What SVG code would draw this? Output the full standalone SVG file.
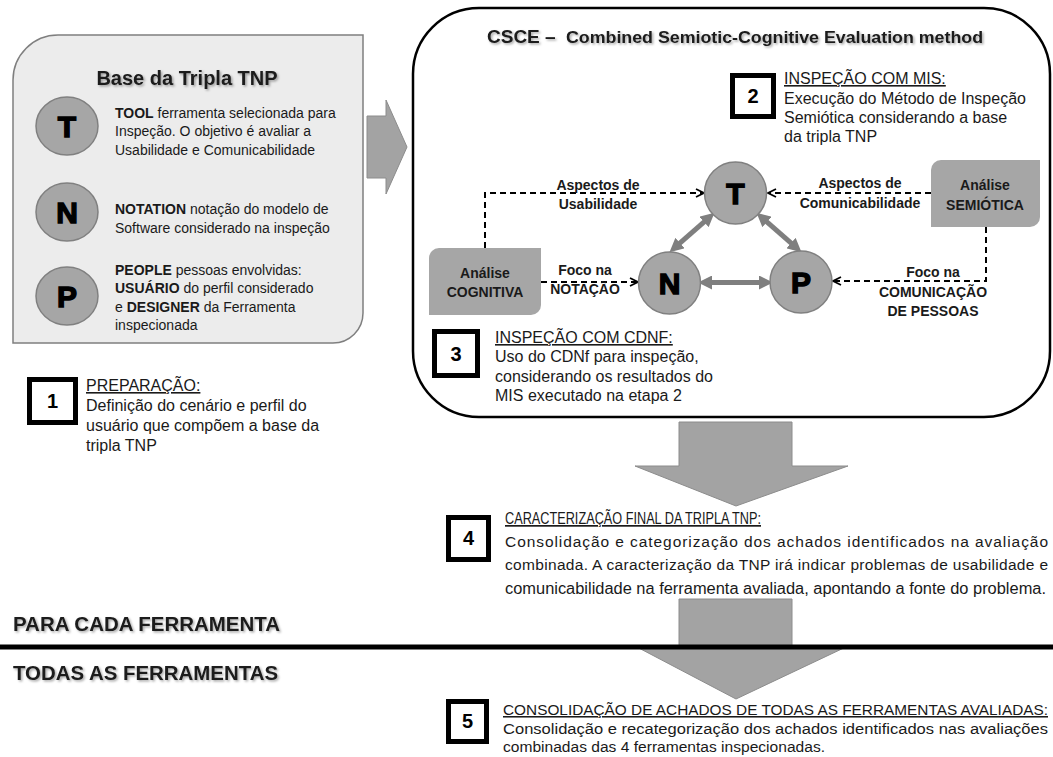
<svg xmlns="http://www.w3.org/2000/svg" width="1053" height="757" viewBox="0 0 1053 757">
  <defs>
    <filter id="shadow" x="-5%" y="-30%" width="110%" height="160%">
      <feDropShadow dx="1.5" dy="1.5" stdDeviation="1" flood-color="#000" flood-opacity="0.35"/>
    </filter>
    <marker id="open" viewBox="0 0 10 10" refX="9" refY="5" markerWidth="10" markerHeight="10" markerUnits="userSpaceOnUse" orient="auto">
      <path d="M1,1 L9,5 L1,9" fill="none" stroke="#000" stroke-width="1.8"/>
    </marker>
    <marker id="grayhead" viewBox="0 0 14 14" refX="4" refY="7" markerWidth="14" markerHeight="14" markerUnits="userSpaceOnUse" orient="auto-start-reverse">
      <path d="M0,0 L14,7 L0,14 Z" fill="#7f7f7f"/>
    </marker>
    <style>
      .body { font-family: "Liberation Sans", Arial, sans-serif; fill: #1a1a1a; }
      .bold { font-family: "Liberation Sans", Arial, sans-serif; font-weight: bold; fill: #1a1a1a; }
      .stepbox { fill: #fff; stroke: #000; stroke-width: 5; }
      .stepnum { font-family: "Liberation Sans", Arial, sans-serif; font-weight: bold; font-size: 20px; fill: #000; text-anchor: middle; }
      .circle { fill: #a6a6a6; stroke: #808080; stroke-width: 1.5; }
      .letter { font-family: "Liberation Sans", Arial, sans-serif; font-weight: 900; font-size: 30px; fill: #000; stroke: #000; stroke-width: 1.4; text-anchor: middle; }
      .graybox { fill: #a6a6a6; }
      .dash { fill: none; stroke: #000; stroke-width: 2; stroke-dasharray: 6 4; }
      .dbl { stroke: #7f7f7f; stroke-width: 5; marker-start: url(#grayhead); marker-end: url(#grayhead); }
      .bigarrow { fill: #a3a3a3; stroke: #8c8c8c; stroke-width: 1; }
      .lbl { font-family: "Liberation Sans", Arial, sans-serif; font-weight: bold; font-size: 14px; fill: #1a1a1a; text-anchor: middle; }
    </style>
  </defs>

  <!-- Base of the TNP triple -->
  <g id="base-tnp">
    <path d="M13,80 A45,45 0 0 1 58,35 L363,35 L363,313 A30,30 0 0 1 333,343 L13,343 Z" fill="#ececec" stroke="#7f7f7f" stroke-width="1.5"/>
    <text class="bold" x="187" y="85" font-size="20" text-anchor="middle" filter="url(#shadow)">Base da Tripla TNP</text>
    <ellipse class="circle" cx="67" cy="126" rx="31" ry="29"/>
    <text class="letter" x="67" y="137">T</text>
    <ellipse class="circle" cx="67" cy="212" rx="31" ry="29"/>
    <text class="letter" x="67" y="223">N</text>
    <ellipse class="circle" cx="67" cy="296" rx="31" ry="29"/>
    <text class="letter" x="67" y="307">P</text>
    <g class="body" font-size="14">
      <text x="115" y="118"><tspan font-weight="bold">TOOL</tspan> ferramenta selecionada para</text>
      <text x="115" y="136">Inspeção. O objetivo é avaliar a</text>
      <text x="115" y="155">Usabilidade e Comunicabilidade</text>
      <text x="115" y="214"><tspan font-weight="bold">NOTATION</tspan> notação do modelo de</text>
      <text x="115" y="233">Software considerado na inspeção</text>
      <text x="115" y="275"><tspan font-weight="bold">PEOPLE</tspan> pessoas envolvidas:</text>
      <text x="115" y="293"><tspan font-weight="bold">USUÁRIO</tspan> do perfil considerado</text>
      <text x="115" y="312">e <tspan font-weight="bold">DESIGNER</tspan> da Ferramenta</text>
      <text x="115" y="330">inspecionada</text>
    </g>
  </g>

  <!-- Arrow into the CSCE method -->
  <polygon class="bigarrow" points="367,116 386,116 386,100 407,147 386,194 386,178 367,178"/>

  <!-- Step 1 -->
  <g id="step1">
    <rect class="stepbox" x="29.5" y="379.5" width="46" height="43"/>
    <text class="stepnum" x="52.5" y="408">1</text>
    <g class="body" font-size="16">
      <text x="86" y="391" text-decoration="underline">PREPARAÇÃO:</text>
      <text x="86" y="411">Definição do cenário e perfil do</text>
      <text x="86" y="431">usuário que compõem a base da</text>
      <text x="86" y="451">tripla TNP</text>
    </g>
  </g>

  <!-- CSCE container -->
  <g id="csce">
    <rect x="413" y="8" width="637" height="409" rx="66" ry="66" fill="#fff" stroke="#000" stroke-width="2.5"/>
    <g filter="url(#shadow)">
      <text class="bold" x="487" y="43" font-size="19">CSCE –</text>
      <text class="bold" x="566" y="43" font-size="16" textLength="417" lengthAdjust="spacingAndGlyphs">Combined Semiotic-Cognitive Evaluation method</text>
    </g>
  </g>

  <!-- Step 2 -->
  <g id="step2">
    <rect class="stepbox" x="732.5" y="75.5" width="41" height="41"/>
    <text class="stepnum" x="753" y="103">2</text>
    <g class="body" font-size="16">
      <text x="784" y="84" text-decoration="underline">INSPEÇÃO COM MIS:</text>
      <text x="784" y="104">Execução do Método de Inspeção</text>
      <text x="784" y="123">Semiótica considerando a base</text>
      <text x="784" y="142">da tripla TNP</text>
    </g>
  </g>

  <!-- Connectors -->
  <g id="connectors">
    <path class="dash" d="M485,248 V193 H704" marker-end="url(#open)"/>
    <path class="dash" d="M931,193 H768" marker-end="url(#open)"/>
    <path class="dash" d="M541,282 H638" marker-end="url(#open)"/>
    <path class="dash" d="M986,227 V281 H833" marker-end="url(#open)"/>
    <line class="dbl" x1="677" y1="245.7" x2="707" y2="219.3"/>
    <line class="dbl" x1="794" y1="245.7" x2="764" y2="219.3"/>
    <line class="dbl" x1="708" y1="282.5" x2="763" y2="282.5"/>
  </g>

  <!-- Connector labels -->
  <g id="labels">
    <text class="lbl" x="598" y="190">Aspectos de</text>
    <text class="lbl" x="598" y="209">Usabilidade</text>
    <text class="lbl" x="860" y="188">Aspectos de</text>
    <text class="lbl" x="860" y="208">Comunicabilidade</text>
    <text class="lbl" x="585" y="275">Foco na</text>
    <text class="lbl" x="585" y="294">NOTAÇÃO</text>
    <text class="lbl" x="933" y="277">Foco na</text>
    <text class="lbl" x="933" y="297">COMUNICAÇÃO</text>
    <text class="lbl" x="933" y="316">DE PESSOAS</text>
  </g>

  <!-- Triple nodes -->
  <g id="node-t">
    <ellipse class="circle" cx="735.5" cy="193" rx="31" ry="31"/>
    <text class="letter" x="735.5" y="204">T</text>
  </g>
  <g id="node-n">
    <ellipse class="circle" cx="669.5" cy="283" rx="31" ry="31"/>
    <text class="letter" x="669.5" y="294">N</text>
  </g>
  <g id="node-p">
    <ellipse class="circle" cx="801" cy="282" rx="31" ry="31"/>
    <text class="letter" x="801" y="293">P</text>
  </g>

  <!-- Analysis boxes -->
  <g id="analise-cognitiva">
    <path class="graybox" d="M439,248 H541 V305 A10,10 0 0 1 531,315 H429 V258 A10,10 0 0 1 439,248 Z"/>
    <text class="lbl" x="485" y="278">Análise</text>
    <text class="lbl" x="485" y="297">COGNITIVA</text>
  </g>
  <g id="analise-semiotica">
    <path class="graybox" d="M941,160 H1040 V217 A10,10 0 0 1 1030,227 H931 V170 A10,10 0 0 1 941,160 Z"/>
    <text class="lbl" x="985" y="190">Análise</text>
    <text class="lbl" x="985" y="210">SEMIÓTICA</text>
  </g>

  <!-- Step 3 -->
  <g id="step3">
    <rect class="stepbox" x="434.5" y="331.5" width="43" height="44"/>
    <text class="stepnum" x="456" y="361">3</text>
    <g class="body" font-size="16">
      <text x="495" y="343" text-decoration="underline">INSPEÇÃO COM CDNF:</text>
      <text x="495" y="362">Uso do CDNf para inspeção,</text>
      <text x="495" y="382">considerando os resultados do</text>
      <text x="495" y="401">MIS executado na etapa 2</text>
    </g>
  </g>

  <!-- Flow arrows -->
  <polygon class="bigarrow" points="679,422 792,422 792,466 848,466 736,506 635,466 679,466"/>
  <polygon class="bigarrow" points="679,599 792,599 792,646 848,646 736,699 635,646 679,646"/>

  <!-- Step 4 -->
  <g id="step4">
    <rect class="stepbox" x="448.5" y="517.5" width="40" height="42"/>
    <text class="stepnum" x="468.5" y="545">4</text>
    <g class="body" font-size="15.5">
      <text x="505" y="524" font-size="17" text-decoration="underline" textLength="256" lengthAdjust="spacingAndGlyphs">CARACTERIZAÇÃO FINAL DA TRIPLA TNP:</text>
      <text x="505" y="547" textLength="543" lengthAdjust="spacing">Consolidação e categorização dos achados identificados na avaliação</text>
      <text x="505" y="570" textLength="543" lengthAdjust="spacing">combinada. A caracterização da TNP irá indicar problemas de usabilidade e</text>
      <text x="505" y="594" font-size="16" textLength="541" lengthAdjust="spacingAndGlyphs">comunicabilidade na ferramenta avaliada, apontando a fonte do problema.</text>
    </g>
  </g>

  <!-- Scope divider -->
  <g id="scope">
    <line x1="0" y1="647" x2="1053" y2="647" stroke="#000" stroke-width="5"/>
    <text class="bold" x="13" y="631" font-size="21" textLength="267" lengthAdjust="spacingAndGlyphs" filter="url(#shadow)">PARA CADA FERRAMENTA</text>
    <text class="bold" x="13" y="680" font-size="21" textLength="265" lengthAdjust="spacingAndGlyphs" filter="url(#shadow)">TODAS AS FERRAMENTAS</text>
  </g>

  <!-- Step 5 -->
  <g id="step5">
    <rect class="stepbox" x="448.5" y="701.5" width="38" height="40"/>
    <text class="stepnum" x="467.5" y="728">5</text>
    <g class="body" font-size="15.5">
      <text x="503" y="715" text-decoration="underline" textLength="545" lengthAdjust="spacingAndGlyphs">CONSOLIDAÇÃO DE ACHADOS DE TODAS AS FERRAMENTAS AVALIADAS:</text>
      <text x="503" y="734" textLength="545" lengthAdjust="spacingAndGlyphs">Consolidação e recategorização dos achados identificados nas avaliações</text>
      <text x="503" y="752" textLength="322" lengthAdjust="spacingAndGlyphs">combinadas das 4 ferramentas inspecionadas.</text>
    </g>
  </g>
</svg>
